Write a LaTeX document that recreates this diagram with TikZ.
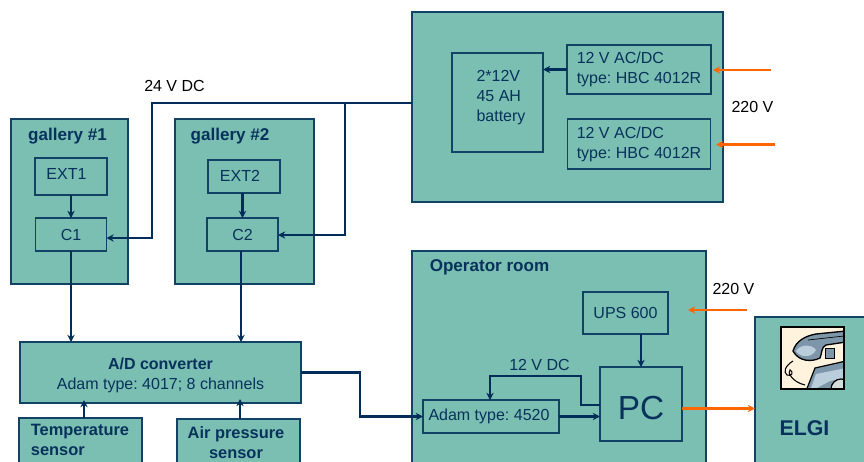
\documentclass[tikz,border=0pt]{standalone}
\usepackage{fontspec}
\setmainfont{Liberation Sans}
\usetikzlibrary{positioning, arrows.meta}
\definecolor{boxteal}{RGB}{122, 191, 178}
\definecolor{wirenavy}{RGB}{0, 45, 90}
\definecolor{textnavy}{RGB}{8, 50, 92}
\definecolor{feedorange}{RGB}{255, 102, 0}
\definecolor{phonecream}{RGB}{255, 243, 222}
\definecolor{phonegrey}{RGB}{125, 150, 170}
\definecolor{phonelight}{RGB}{185, 205, 218}
\tikzset{
  box/.style 2 args={draw=wirenavy!85!boxteal, line width=0.8pt, fill=boxteal, inner sep=0pt, outer sep=0pt,
    text=textnavy, align=center, font=\fontsize{12}{15}\selectfont,
    minimum width=#1*0.75pt, minimum height=#2*0.75pt},
  boxtext/.style={text=textnavy, inner sep=0pt, font=\fontsize{12}{15}\selectfont},
  head/.style={text=textnavy, align=center, inner sep=0pt, font=\fontsize{12.8}{15}\selectfont\bfseries},
  volt/.style={text=black, inner sep=0pt, font=\fontsize{12}{15}\selectfont},
  wire/.style={draw=wirenavy, line width=1.8pt, -{Stealth[length=1.9mm, width=1.9mm]}},
  feed/.style={draw=feedorange, line width=1.8pt, -{Stealth[length=1.9mm, width=1.9mm]}}
}
\begin{document}
\frenchspacing
\begin{tikzpicture}[x=0.75pt, y=-0.75pt]
    \useasboundingbox (0,0) rectangle (864,461);
    \clip (0,0) rectangle (864,461);

    % power supply
    \node[box={311}{190}] (supply) at (567.5,107) {};
    \node[box={91}{99}] (battery) at (497.5,102.5) {};
    \node[boxtext, align=left] (batterytext) at (501,98) {2*12V\\45 AH\\battery};
    \node[box={144}{49}, align=left] (charger1) at (639,69.5) {12 V AC/DC\\type: HBC 4012R};
    \node[box={143}{50}, align=left] (charger2) at (639,144) {12 V AC/DC\\type: HBC 4012R};

    % galleries
    \node[box={117}{165}] (gallery1) at (69.5,201.5) {};
    \node[box={139}{165}] (gallery2) at (244.5,201.5) {};
    \node[head] (title1) at (67.5,136) {gallery \#1};
    \node[head] (title2) at (230,136) {gallery \#2};
    \node[box={72}{37}] (ext1) at (71,176.5) {};
    \node[boxtext] (ext1text) at (66.5,174) {EXT1};
    \node[box={71}{33}] (c1) at (71,234.5) {C1};
    \node[box={72}{33}] (ext2) at (244,176.5) {};
    \node[boxtext] (ext2text) at (240,176) {EXT2};
    \node[box={71}{33}] (c2) at (242.5,234.5) {C2};

    % converter and sensors
    \node[box={281}{61}] (adc) at (160.5,372.5) {};
    \node[boxtext, align=center] (adctext) at (160.5,375) {\textbf{A/D converter}\\Adam type: 4017; 8 channels};
    \node[box={123}{52}] (temp) at (80.5,444) {};
    \node[head, font=\fontsize{12.3}{15}\selectfont\bfseries, align=left] (temptext) at (80,440) {Temperature\\sensor};
    \node[box={123}{51}] (air) at (238.5,444.5) {};
    \node[head, font=\fontsize{12.3}{15}\selectfont\bfseries] (airtext) at (236,443) {Air pressure\\sensor};

    % operator room
    \node[box={294}{219}] (room) at (559,360.5) {};
    \node[head] (roomtitle) at (489.5,267.5) {Operator room};
    \node[box={85}{42}] (ups) at (625.5,313) {UPS 600};
    \node[box={82}{74}] (pc) at (641,404) {};
    \node[boxtext, font=\fontsize{25}{30}\selectfont] (pctext) at (641,408) {PC};
    \node[box={136}{33}] (adam) at (491,416.5) {};
    \node[boxtext] (adamtext) at (489,416.5) {Adam type: 4520};

    % ELGI
    \node[box={115}{153}] (elgi) at (812.5,393.5) {};
    \node[head, font=\fontsize{16}{19}\selectfont\bfseries] (elgitext) at (804.5,428) {ELGI};

    % phone picture
    \begin{scope}
      \clip (781,327) rectangle (844,389);
      \fill[phonecream] (781,327) rectangle (844,389);
      \draw[black, line width=0.8pt] (793,361) .. controls (785,366) and (783,372) .. (787,375)
          .. controls (792,377) and (794,372) .. (790,370)
          .. controls (787,372) and (792,382) .. (805,385);
      \draw[black, line width=0.9pt, fill=phonegrey] (806,391) -- (815,368) -- (846,361) -- (846,391) -- cycle;
      \fill[phonelight] (816,374) -- (846,368) -- (846,378) -- (830,381) -- (813,390) -- (811,388) -- cycle;
      \draw[black, line width=0.9pt, fill=phonelight!60!phonecream] (841,389) circle (10);
      \draw[black, line width=1pt, fill=phonegrey] (793,351) .. controls (796,341) and (805,336) .. (816,334)
          -- (846,331) -- (846,342) -- (826,345) .. controls (821,347) and (822,354) .. (820,358)
          .. controls (812,362) and (799,362) .. (793,351) -- cycle;
      \fill[phonelight] (796,351) .. controls (800,344) and (812,344) .. (816,350)
          .. controls (812,358) and (800,358) .. (796,351) -- cycle;
      \draw[black, line width=0.6pt, fill=phonegrey] (825,348) rectangle (834,358);
      \draw[black, line width=0.5pt] (808,340) -- (844,336);
    \end{scope}
    \draw[black, line width=1.5pt] (781,327) rectangle (844,389);

    % internal links
    \draw[wire] (charger1.west) -- (charger1.west -| battery.east);
    \draw[wire] (ext1) -- (c1);
    \draw[wire] (c2.north |- ext2.south) -- (c2.north);
    \draw[wire] (c1.south) -- (c1.south |- adc.north);
    \draw[wire] (241,251) -- (241,342);
    \draw[wire] (84,418) -- (84,400);
    \draw[wire] (240,419) -- (240,399);

    % 24 V bus
    \coordinate (bus) at (supply.west |- 0,103);
    \coordinate (busc1) at (152,238);
    \coordinate (busc2) at (345,235);
    \draw[wire] (bus) -| (busc1) -- (c1.east |- busc1);
    \draw[wire] (busc2 |- bus) -- (busc2) -- (c2.east |- busc2);

    % computer side
    \coordinate (turn) at (360,395);
    \draw[wire] (adc.east) -| (turn) |- (adam.west);
    \draw[wire] (adam.east) -- (adam.east -| pc.west);
    \coordinate (dcout) at (600,405);
    \coordinate (dcup) at (581,376);
    \coordinate (dcin) at (490,376);
    \draw[wire] (dcout) -| (dcup) -- (dcin) -- (dcin |- adam.north);
    \draw[wire] (pc.north |- ups.south) -- (pc.north);

    % mains and ELGI link
    \coordinate (mains1) at (771,70);
    \coordinate (mains1in) at (713,70);
    \coordinate (mains2) at (775,144.5);
    \coordinate (mains2in) at (716,144.5);
    \coordinate (mains3) at (747,310);
    \coordinate (mains3in) at (688,310);
    \coordinate (pcout) at (682,408.5);
    \draw[feed] (mains1) -- (mains1in);
    \draw[feed] (mains2) -- (mains2in);
    \draw[feed] (mains3) -- (mains3in);
    \draw[feed] (pcout) -- (pcout -| elgi.west);

    \node[volt] (v24) at (174.5,86) {24 V DC};
    \node[volt] (v220a) at (752.5,107) {220 V};
    \node[volt] (v220b) at (733.5,289) {220 V};
    \node[boxtext] (v12) at (539.5,365) {12 V DC};
\end{tikzpicture}
\end{document}
